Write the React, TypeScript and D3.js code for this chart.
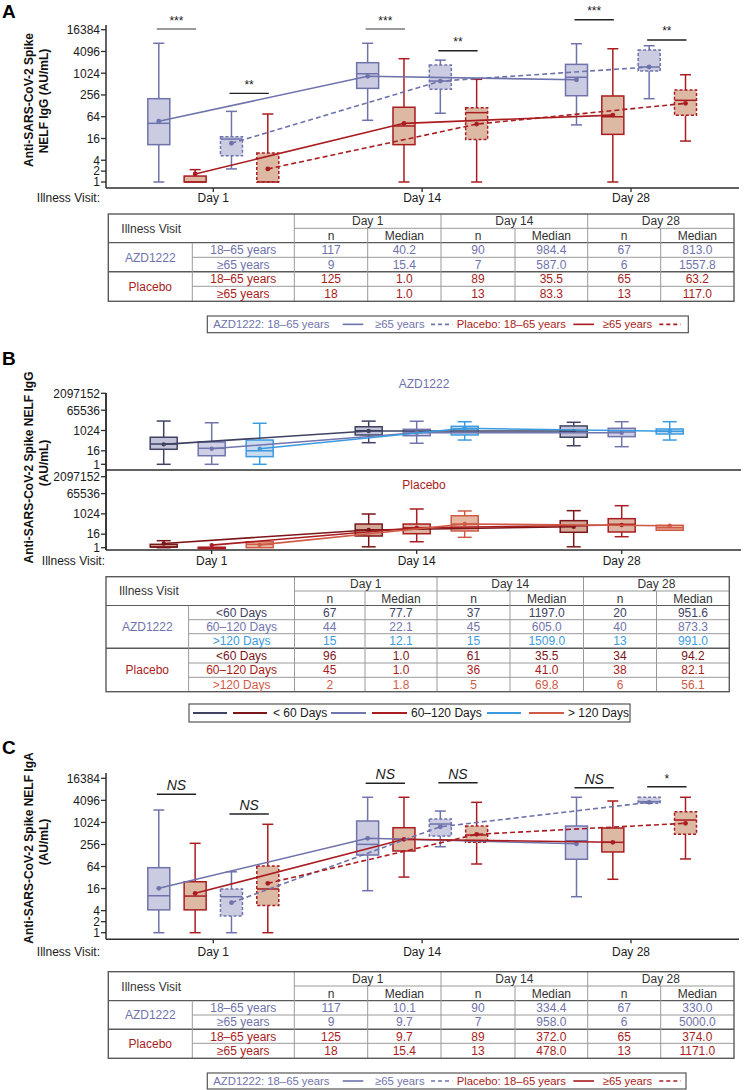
import React, { useEffect } from 'react';
import * as d3 from 'd3';

const FONT = '"Liberation Sans", Arial, Helvetica, sans-serif';

// ---------------- DATA ----------------
const days = ['Day 1', 'Day 14', 'Day 28'];
const ageGroups = ['AZD1222 18–65', 'Placebo 18–65', 'AZD1222 ≥65', 'Placebo ≥65'];
const intervalGroups = ['<60 Days', '60–120 Days', '>120 Days'];
const ageLabels = ['18–65 years', '≥65 years'];
const intervalLabels = ['<60 Days', '60–120 Days', '>120 Days'];
const tickA = [1, 2, 4, 16, 64, 256, 1024, 4096, 16384];
const tickB = [1, 16, 1024, 65536, 2097152];

// box stats per visit: [lower whisker, Q1, median, Q3, upper whisker, mean]
const iggAzd1865 = [[1, 10.8, 42, 202, 6900, 48], [51, 390, 990, 2000, 6900, 840], [38, 244, 790, 1800, 6700, 676]];
const iggPla1865 = [[1, 1, 1, 1.46, 2.2, 1.67], [1, 10.8, 35.5, 117, 2580, 42], [1, 20.8, 64, 240, 4870, 71]];
const iggAzd65 = [[2.3, 5.3, 15.4, 18, 90, 11.8], [80, 367, 622, 1720, 2360, 620], [202, 1180, 1520, 4500, 5900, 1520]];
const iggPla65 = [[1, 1, 1, 6.3, 76, 2.3], [1, 15, 83, 114, 694, 40], [13.6, 70, 182, 352, 930, 150]];

const bAzdLt60 = [[1, 21.7, 64, 256, 7100, 60], [84, 407, 980, 2200, 7000, 920], [45, 256, 920, 2600, 5500, 920]];
const bAzd60120 = [[1, 5.8, 26.6, 97, 5000, 24], [75, 352, 750, 1300, 6800, 650], [37, 290, 750, 1600, 6200, 650]];
const bAzdGt120 = [[1, 4.8, 16, 145, 4500, 24], [145, 407, 1400, 2400, 6200, 1600], [145, 500, 870, 1390, 6200, 870]];
const bPlaLt60 = [[1, 1.15, 1.15, 2, 4.2, 2.4], [1.2, 11, 38, 128, 1000, 38], [1.2, 23.5, 91, 256, 1980, 74]];
const bPla60120 = [[1, 1, 1, 1.1, 1.1, 1.7], [3.4, 17.6, 60, 128, 2800, 60], [9.5, 25, 121, 385, 5500, 105]];
const bPlaGt120 = [[1, 1, 2, 3.4, 3.4, 1.8], [8.4, 30.7, 128, 700, 1860, 128], [35.5, 35.5, 60, 99, 99, 91]];

const igaAzd1865 = [[1, 4.2, 10.2, 59.5, 2230, 16.3], [14, 132, 258, 1120, 4970, 377], [9.6, 101, 324, 815, 4970, 268]];
const igaPla1865 = [[1, 4.2, 10, 24.6, 275, 11.9], [33, 170, 354, 734, 4970, 354], [28.7, 160, 293, 720, 3930, 293]];
const igaAzd65 = [[1, 2.85, 9.6, 15.6, 46, 6.6], [222, 436, 925, 1270, 2090, 780], [3400, 3400, 3770, 4970, 4970, 3620]];
const igaPla65 = [[1, 5.5, 15.6, 66, 910, 22.3], [75, 293, 464, 815, 3620, 485], [103, 485, 1190, 2000, 4970, 970]];

// significance: [visit, group a, group b, bracket level (AU/mL), label]
const sigA: [string, number, number, number, string][] = [
  ['Day 1', 0, 1, 17100, '***'], ['Day 1', 2, 3, 284, '**'],
  ['Day 14', 0, 1, 17100, '***'], ['Day 14', 2, 3, 4300, '**'],
  ['Day 28', 0, 1, 31000, '***'], ['Day 28', 2, 3, 8500, '**'],
];
const sigC: [string, number, number, number, string][] = [
  ['Day 1', 0, 1, 6000, 'NS'], ['Day 1', 2, 3, 1740, 'NS'],
  ['Day 14', 0, 1, 11950, 'NS'], ['Day 14', 2, 3, 12400, 'NS'],
  ['Day 28', 0, 1, 9080, 'NS'], ['Day 28', 2, 3, 9670, '*'],
];

const tableA = [
  ['117', '40.2', '90', '984.4', '67', '813.0'],
  ['9', '15.4', '7', '587.0', '6', '1557.8'],
  ['125', '1.0', '89', '35.5', '65', '63.2'],
  ['18', '1.0', '13', '83.3', '13', '117.0'],
];
const tableB = [
  ['67', '77.7', '37', '1197.0', '20', '951.6'],
  ['44', '22.1', '45', '605.0', '40', '873.3'],
  ['15', '12.1', '15', '1509.0', '13', '991.0'],
  ['96', '1.0', '61', '35.5', '34', '94.2'],
  ['45', '1.0', '36', '41.0', '38', '82.1'],
  ['2', '1.8', '5', '69.8', '6', '56.1'],
];
const tableC = [
  ['117', '10.1', '90', '334.4', '67', '330.0'],
  ['9', '9.7', '7', '958.0', '6', '5000.0'],
  ['125', '9.7', '89', '372.0', '65', '374.0'],
  ['18', '15.4', '13', '478.0', '13', '1171.0'],
];

// ---------------- STYLE ----------------
const AX = '#2e2e2e';
const AZD = '#6f73ab', AZD_F = '#cbcce2', PL = '#a91c20', PL_F = '#ddb9a4';
const B_AZD = ['#3f4263', '#7175ad', '#3b9be0'];
const B_AZD_F = ['#c3c4d9', '#cfd0e5', '#c9dbef'];
const B_PL = ['#7c1518', '#a91c20', '#cf5b47'];
const B_PL_F = ['#d2a996', '#dcb6a2', '#e6b8a3'];

type Scale = (v: number) => number;

function Box({ cx, w, cap, y, s, stroke, fill, dashed }: any) {
  const [lo, q1, med, q3, hi] = s;
  const da = dashed ? '3,2' : undefined;
  const top = y(q3), bot = y(q1);
  return (
    <g stroke={stroke} strokeWidth={1.5}>
      {hi > q3 && (
        <>
          <line x1={cx} x2={cx} y1={top} y2={y(hi)} />
          <line x1={cx - cap / 2} x2={cx + cap / 2} y1={y(hi)} y2={y(hi)} />
        </>
      )}
      {lo < q1 && (
        <>
          <line x1={cx} x2={cx} y1={bot} y2={y(lo)} />
          <line x1={cx - cap / 2} x2={cx + cap / 2} y1={y(lo)} y2={y(lo)} />
        </>
      )}
      <rect x={cx - w / 2} y={top} width={w} height={Math.max(bot - top, 1.5)} fill={fill} strokeDasharray={da} />
      <line x1={cx - w / 2} x2={cx + w / 2} y1={y(med)} y2={y(med)} />
    </g>
  );
}

function YAxis({ x, y, ticks, top, bottom, fs }: any) {
  return (
    <g>
      <line x1={x} x2={x} y1={top} y2={bottom} stroke={AX} strokeWidth={1.5} />
      {ticks.map((t: number) => (
        <g key={t}>
          <line x1={x - 5} x2={x} y1={y(t)} y2={y(t)} stroke={AX} strokeWidth={1.3} />
          <text x={x - 6} y={y(t)} dy="0.36em" textAnchor="end" fontSize={fs} fill="#1a1a1a">{t}</text>
        </g>
      ))}
    </g>
  );
}

function XAxis({ x, y0, x0, x1, labelY, labelRight }: any) {
  return (
    <g>
      <line x1={x0} x2={x1} y1={y0} y2={y0} stroke={AX} strokeWidth={1.5} />
      {days.map(d => (
        <g key={d}>
          <line x1={x(d)} x2={x(d)} y1={y0} y2={y0 + 4} stroke={AX} strokeWidth={1.3} />
          <text x={x(d)} y={labelY} dy="0.36em" textAnchor="middle" fontSize={12} fill="#1a1a1a">{d}</text>
        </g>
      ))}
      <text x={labelRight} y={labelY} dy="0.36em" textAnchor="end" fontSize={12} fill="#1a1a1a">Illness Visit:</text>
    </g>
  );
}

function YTitle({ lines }: any) {
  return (
    <g fontWeight="bold" fontSize={12} fill="#111">
      {lines.map((l: [string, number, number], i: number) => (
        <text key={i} transform={`translate(${l[1]},${l[2]}) rotate(-90)`} textAnchor="middle">{l[0]}</text>
      ))}
    </g>
  );
}

function AgePanel({ series, sigs, yTop, yBot, axisTop, axisY, labelY, italic, sigGray }: any) {
  const x = d3.scalePoint<string>().domain(days).range([213.3, 631]);
  const off = d3.scalePoint<string>().domain(ageGroups).range([-54.5, 54.5]);
  const y = d3.scaleLog().base(2).domain([1, 16384]).range([yBot, yTop]);
  const line = d3.line();
  return (
    <g>
      <YAxis x={106} y={y} ticks={tickA} top={axisTop} bottom={axisY} fs={12} />
      <XAxis x={x} y0={axisY} x0={106} x1={739} labelY={labelY} labelRight={100} />
      {series.map((s: any, gi: number) =>
        days.map((d, di) => (
          <Box key={gi + '-' + di} cx={(x(d) as number) + (off(ageGroups[gi]) as number)} w={22} cap={11} y={y}
            s={s.stats[di]} stroke={s.color} fill={s.fill} dashed={s.dashed} />
        ))
      )}
      {series.map((s: any, gi: number) => {
        const pts = days.map((d, di) => [(x(d) as number) + (off(ageGroups[gi]) as number), y(s.stats[di][5])] as [number, number]);
        return (
          <g key={'l' + gi}>
            <path d={line(pts) || ''} fill="none" stroke={s.color} strokeWidth={1.6} strokeDasharray={s.dashed ? '5,3' : undefined} />
            {pts.map((p, i) => <circle key={i} cx={p[0]} cy={p[1]} r={2.4} fill={s.color} />)}
          </g>
        );
      })}
      {sigs.map((sg: any, i: number) => {
        const [d, a, b, lv, lab] = sg;
        const xa = (x(d) as number) + (off(ageGroups[a]) as number) - 2;
        const xb = (x(d) as number) + (off(ageGroups[b]) as number) + 1;
        const yy = y(lv);
        const col = sigGray && b === 1 && d !== 'Day 28' ? '#7a7a7a' : '#222';
        return (
          <g key={'s' + i}>
            <line x1={xa} x2={xb} y1={yy} y2={yy} stroke={col} strokeWidth={1.4} />
            <text x={(xa + xb) / 2} y={italic ? yy - 4 : yy - 4.5} textAnchor="middle" fontSize={italic && lab !== '*' ? 14 : 12}
              fontStyle={italic && lab !== '*' ? 'italic' : undefined} fill="#1a1a1a">{lab}</text>
          </g>
        );
      })}
    </g>
  );
}

function IntervalPanel() {
  const x = d3.scalePoint<string>().domain(days).range([211.7, 621.7]);
  const off = d3.scalePoint<string>().domain(intervalGroups).range([-48, 48]);
  const yU = d3.scaleLog().base(2).domain([1, 2097152]).range([464.3, 393.3]);
  const yL = d3.scaleLog().base(2).domain([1, 2097152]).range([547.7, 476.7]);
  const line = d3.line();
  const upper = [bAzdLt60, bAzd60120, bAzdGt120];
  const lower = [bPlaLt60, bPla60120, bPlaGt120];
  const block = (sets: number[][][], y: Scale, cols: string[], fills: string[], key: string) => (
    <g key={key}>
      {sets.map((st, gi) => days.map((d, di) => (
        <Box key={gi + '-' + di} cx={(x(d) as number) + (off(intervalGroups[gi]) as number)} w={27} cap={14} y={y}
          s={st[di]} stroke={cols[gi]} fill={fills[gi]} dashed={false} />
      )))}
      {sets.map((st, gi) => {
        const pts = days.map((d, di) => [(x(d) as number) + (off(intervalGroups[gi]) as number), y(st[di][5])] as [number, number]);
        return (
          <g key={'l' + gi}>
            <path d={line(pts) || ''} fill="none" stroke={cols[gi]} strokeWidth={1.6} />
            {pts.map((p, i) => <circle key={i} cx={p[0]} cy={p[1]} r={2.2} fill={cols[gi]} />)}
          </g>
        );
      })}
    </g>
  );
  return (
    <g>
      <line x1={106} x2={106} y1={393} y2={550} stroke={AX} strokeWidth={1.5} />
      <YAxis x={106} y={yU} ticks={tickB} top={393} bottom={470} fs={12} />
      <YAxis x={106} y={yL} ticks={tickB} top={470} bottom={550} fs={12} />
      <line x1={106} x2={741} y1={470} y2={470} stroke={AX} strokeWidth={1.5} />
      <XAxis x={x} y0={550} x0={106} x1={741} labelY={561} labelRight={105} />
      <text x={424} y={384} dy="0.36em" textAnchor="middle" fontSize={12} fill={AZD}>AZD1222</text>
      <text x={424} y={485} dy="0.36em" textAnchor="middle" fontSize={12} fill={PL}>Placebo</text>
      {block(upper, yU, B_AZD, B_AZD_F, 'u')}
      {block(lower, yL, B_PL, B_PL_F, 'l')}
    </g>
  );
}

function Table({ cols, rows, groups, labels, cells, rowColors }: any) {
  const nData = cells.length;
  const inner = '#9a9a9a', outer = '#5a5a5a';
  const els: any[] = [];
  const L = cols[0], R = cols[cols.length - 1], T = rows[0], B = rows[rows.length - 1];
  els.push(<line key="h1" x1={cols[2]} x2={R} y1={rows[1]} y2={rows[1]} stroke={inner} />);
  els.push(<line key="h2" x1={L} x2={R} y1={rows[2]} y2={rows[2]} stroke={outer} strokeWidth={1.2} />);
  let r = 0;
  groups.forEach((g: any, gi: number) => {
    for (let k = 1; k < g.count; k++) {
      const yy = rows[2 + r + k];
      els.push(<line key={'hr' + gi + k} x1={cols[1]} x2={R} y1={yy} y2={yy} stroke={inner} />);
    }
    r += g.count;
    if (gi < groups.length - 1) {
      const yy = rows[2 + r];
      els.push(<line key={'hg' + gi} x1={L} x2={R} y1={yy} y2={yy} stroke={outer} strokeWidth={1.4} />);
    }
  });
  [2, 4, 6].forEach(c => els.push(<line key={'v' + c} x1={cols[c]} x2={cols[c]} y1={T} y2={B} stroke={inner} />));
  [3, 5, 7].forEach(c => els.push(<line key={'v' + c} x1={cols[c]} x2={cols[c]} y1={rows[1]} y2={B} stroke={inner} />));
  els.push(<line key="v1" x1={cols[1]} x2={cols[1]} y1={rows[2]} y2={B} stroke={inner} />);
  els.push(<rect key="out" x={L} y={T} width={R - L} height={B - T} fill="none" stroke={outer} strokeWidth={1.4} />);
  const fs = 12;
  els.push(<text key="iv" x={L + 13} y={(rows[0] + rows[2]) / 2} dy="0.36em" fontSize={fs} fill="#333">Illness Visit</text>);
  days.forEach((d, i) => {
    els.push(<text key={'d' + i} x={(cols[2 + 2 * i] + cols[4 + 2 * i]) / 2} y={(rows[0] + rows[1]) / 2} dy="0.36em" textAnchor="middle" fontSize={fs} fill="#333">{d}</text>);
    els.push(<text key={'n' + i} x={(cols[2 + 2 * i] + cols[3 + 2 * i]) / 2} y={(rows[1] + rows[2]) / 2} dy="0.36em" textAnchor="middle" fontSize={fs} fill="#333">n</text>);
    els.push(<text key={'m' + i} x={(cols[3 + 2 * i] + cols[4 + 2 * i]) / 2} y={(rows[1] + rows[2]) / 2} dy="0.36em" textAnchor="middle" fontSize={fs} fill="#333">Median</text>);
  });
  r = 0;
  groups.forEach((g: any, gi: number) => {
    els.push(<text key={'g' + gi} x={(cols[0] + cols[1]) / 2} y={(rows[2 + r] + rows[2 + r + g.count]) / 2} dy="0.36em" textAnchor="middle" fontSize={fs} fill={g.color}>{g.name}</text>);
    r += g.count;
  });
  for (let i = 0; i < nData; i++) {
    const cy = (rows[2 + i] + rows[3 + i]) / 2;
    els.push(<text key={'rl' + i} x={(cols[1] + cols[2]) / 2} y={cy} dy="0.36em" textAnchor="middle" fontSize={fs} fill={rowColors[i]}>{labels[i]}</text>);
    cells[i].forEach((v: string, j: number) => {
      els.push(<text key={'c' + i + '-' + j} x={(cols[2 + j] + cols[3 + j]) / 2} y={cy} dy="0.36em" textAnchor="middle" fontSize={fs} fill={rowColors[i]}>{v}</text>);
    });
  }
  return <g>{els}</g>;
}

function AgeLegend({ top, bottom, right }: any) {
  const cy = (top + bottom) / 2;
  return (
    <g fontSize={11.3}>
      <rect x={207.3} y={top} width={right - 207.3} height={bottom - top} fill="#fff" stroke="#555" strokeWidth={1.2} />
      <text x={213.3} y={cy} dy="0.36em" fill={AZD}>AZD1222: 18–65 years</text>
      <line x1={342.7} x2={363.3} y1={cy} y2={cy} stroke={AZD} strokeWidth={1.6} />
      <text x={375} y={cy} dy="0.36em" fill={AZD}>≥65 years</text>
      <line x1={431} x2={452.3} y1={cy} y2={cy} stroke={AZD} strokeWidth={1.6} strokeDasharray="4,3" />
      <text x={456.7} y={cy} dy="0.36em" fill={PL}>Placebo: 18–65 years</text>
      <line x1={573.3} x2={594} y1={cy} y2={cy} stroke={PL} strokeWidth={1.6} />
      <text x={602.7} y={cy} dy="0.36em" fill={PL}>≥65 years</text>
      <line x1={659.3} x2={680.7} y1={cy} y2={cy} stroke={PL} strokeWidth={1.6} strokeDasharray="4,3" />
    </g>
  );
}

function IntervalLegend() {
  const top = 704, bottom = 722, cy = (top + bottom) / 2;
  const seg = (a: number, b: number, c: string, k: string) => <line key={k} x1={a} x2={b} y1={cy} y2={cy} stroke={c} strokeWidth={1.8} />;
  return (
    <g fontSize={12} fill="#1a1a1a">
      <rect x={189} y={top} width={441} height={bottom - top} fill="#fff" stroke="#555" strokeWidth={1.2} />
      {seg(193, 227, B_AZD[0], 'a')}{seg(233, 267, B_PL[0], 'b')}
      <text x={273} y={cy} dy="0.36em">{'< 60 Days'}</text>
      {seg(331, 366, B_AZD[1], 'c')}{seg(372, 407, B_PL[1], 'd')}
      <text x={411} y={cy} dy="0.36em">60–120 Days</text>
      {seg(487, 521, B_AZD[2], 'e')}{seg(529, 564, B_PL[2], 'f')}
      <text x={568} y={cy} dy="0.36em">{'> 120 Days'}</text>
    </g>
  );
}

export default function App() {
  useEffect(() => { document.body.style.margin = '0'; }, []);
  const seriesA = [
    { stats: iggAzd1865, color: AZD, fill: AZD_F, dashed: false },
    { stats: iggPla1865, color: PL, fill: PL_F, dashed: false },
    { stats: iggAzd65, color: AZD, fill: AZD_F, dashed: true },
    { stats: iggPla65, color: PL, fill: PL_F, dashed: true },
  ];
  const seriesC = [
    { stats: igaAzd1865, color: AZD, fill: AZD_F, dashed: false },
    { stats: igaPla1865, color: PL, fill: PL_F, dashed: false },
    { stats: igaAzd65, color: AZD, fill: AZD_F, dashed: true },
    { stats: igaPla65, color: PL, fill: PL_F, dashed: true },
  ];
  const ageGroupsT = [{ name: 'AZD1222', color: AZD, count: 2 }, { name: 'Placebo', color: PL, count: 2 }];
  const colsA = [108.3, 192.3, 294.3, 367.7, 441, 515, 587.7, 660.7, 734];
  const colsB = [106, 188.6, 294.5, 365, 437, 510, 583.5, 656.5, 729.3];
  return (
    <svg width={744} height={1090} viewBox="0 0 744 1090" fontFamily={FONT}
      style={{ display: 'block', position: 'absolute', left: 0, top: 0, background: '#fff' }}>
      {/* Panel A */}
      <text x={2} y={18} fontSize={19} fontWeight="bold">A</text>
      <YTitle lines={[['Anti-SARS-CoV-2 Spike', 32.5, 100], ['NELF IgG (AU/mL)', 47.5, 101]]} />
      <AgePanel series={seriesA} sigs={sigA} yTop={29.7} yBot={182} axisTop={25} axisY={188} labelY={197.5} italic={false} sigGray />
      <Table cols={colsA} rows={[214, 228.3, 242.7, 257.3, 271.7, 286.3, 301.3]} groups={ageGroupsT}
        labels={[...ageLabels, ...ageLabels]} cells={tableA} rowColors={[AZD, AZD, PL, PL]} />
      <AgeLegend top={316} bottom={332.7} right={688.3} />

      {/* Panel B */}
      <text x={2} y={365} fontSize={19} fontWeight="bold">B</text>
      <YTitle lines={[['Anti-SARS-CoV-2 Spike NELF IgG', 32.5, 467.5], ['(AU/mL)', 47.5, 463]]} />
      <IntervalPanel />
      <Table cols={colsB} rows={[576.7, 591, 605.5, 619.7, 633.7, 648.3, 663, 677.3, 691.7]}
        groups={[{ name: 'AZD1222', color: AZD, count: 3 }, { name: 'Placebo', color: PL, count: 3 }]}
        labels={[...intervalLabels, ...intervalLabels]} cells={tableB}
        rowColors={[B_AZD[0], B_AZD[1], B_AZD[2], B_PL[0], B_PL[1], B_PL[2]]} />
      <IntervalLegend />

      {/* Panel C */}
      <text x={2} y={753.5} fontSize={19} fontWeight="bold">C</text>
      <YTitle lines={[['Anti-SARS-CoV-2 Spike NELF IgA', 32.5, 848], ['(AU/mL)', 47.5, 842]]} />
      <AgePanel series={seriesC} sigs={sigC} yTop={778.3} yBot={932.7} axisTop={773} axisY={939.3} labelY={951.7} italic sigGray={false} />
      <Table cols={colsA} rows={[971.7, 986, 1000.7, 1015, 1029.3, 1043.3, 1058.3]} groups={ageGroupsT}
        labels={[...ageLabels, ...ageLabels]} cells={tableC} rowColors={[AZD, AZD, PL, PL]} />
      <AgeLegend top={1073} bottom={1089} right={686} />
    </svg>
  );
}
